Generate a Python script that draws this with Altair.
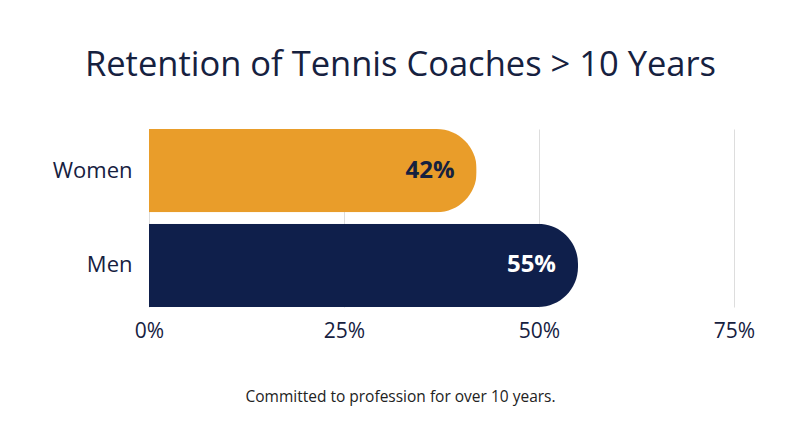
import altair as alt
import pandas as pd

categories = ["Women", "Men"]
values = [42, 55]
labels = ["42%", "55%"]
bar_colors = ["#E99D2A", "#0F1F4B"]
label_colors = ["#16213F", "#FFFFFF"]
x_ticks = [0, 25, 50, 75]

df = pd.DataFrame({"group": categories, "value": values, "label": labels})

FONT = "Open Sans"
TXT = "#16213F"

base = alt.Chart(df).encode(
    y=alt.Y("group:N", sort=categories,
            scale=alt.Scale(paddingInner=0.12, paddingOuter=0),
            axis=alt.Axis(title=None, labelFontSize=22, labelColor=TXT, labelFont=FONT,
                          labelPadding=17, ticks=False, domain=False, grid=False))
)

bars = base.mark_bar(cornerRadiusEnd=40).encode(
    x=alt.X("value:Q", scale=alt.Scale(domain=[0, 75], nice=False),
            axis=alt.Axis(values=x_ticks, labelExpr="datum.value + '%'",
                          labelFontSize=21, labelColor=TXT, labelFont=FONT,
                          labelPadding=13, labelFlush=False, ticks=False, domain=False,
                          grid=True, gridColor="#DDDDDD", gridWidth=1,
                          title="Committed to profession for over 10 years.",
                          titleFont=FONT, titleFontSize=15.5, titleFontWeight="normal",
                          titleColor="#222222", titleX=251, titleY=94,
                          titleAlign="center", titleBaseline="alphabetic")),
    color=alt.Color("group:N", scale=alt.Scale(domain=categories, range=bar_colors), legend=None),
)

text = base.mark_text(align="right", baseline="middle", dx=-22, fontSize=24,
                      fontWeight="bold", font=FONT).encode(
    x=alt.X("value:Q"),
    text="label:N",
    color=alt.Color("group:N", scale=alt.Scale(domain=categories, range=label_colors), legend=None),
)

chart = alt.layer(bars, text).resolve_scale(color="independent").properties(
    width=585, height=178,
    background="white",
    padding={"left": 141, "top": 121, "right": 58, "bottom": 132},
    autosize=alt.AutoSizeParams(type="none"),
    title=alt.TitleParams("Retention of Tennis Coaches > 10 Years", font=FONT,
                          fontSize=34.5, fontWeight="normal", color=TXT,
                          anchor="middle", dx=-41, offset=46),
).configure_view(strokeWidth=0, stroke=None)

chart.save("out.html", embed_options={"renderer": "svg", "actions": False})
